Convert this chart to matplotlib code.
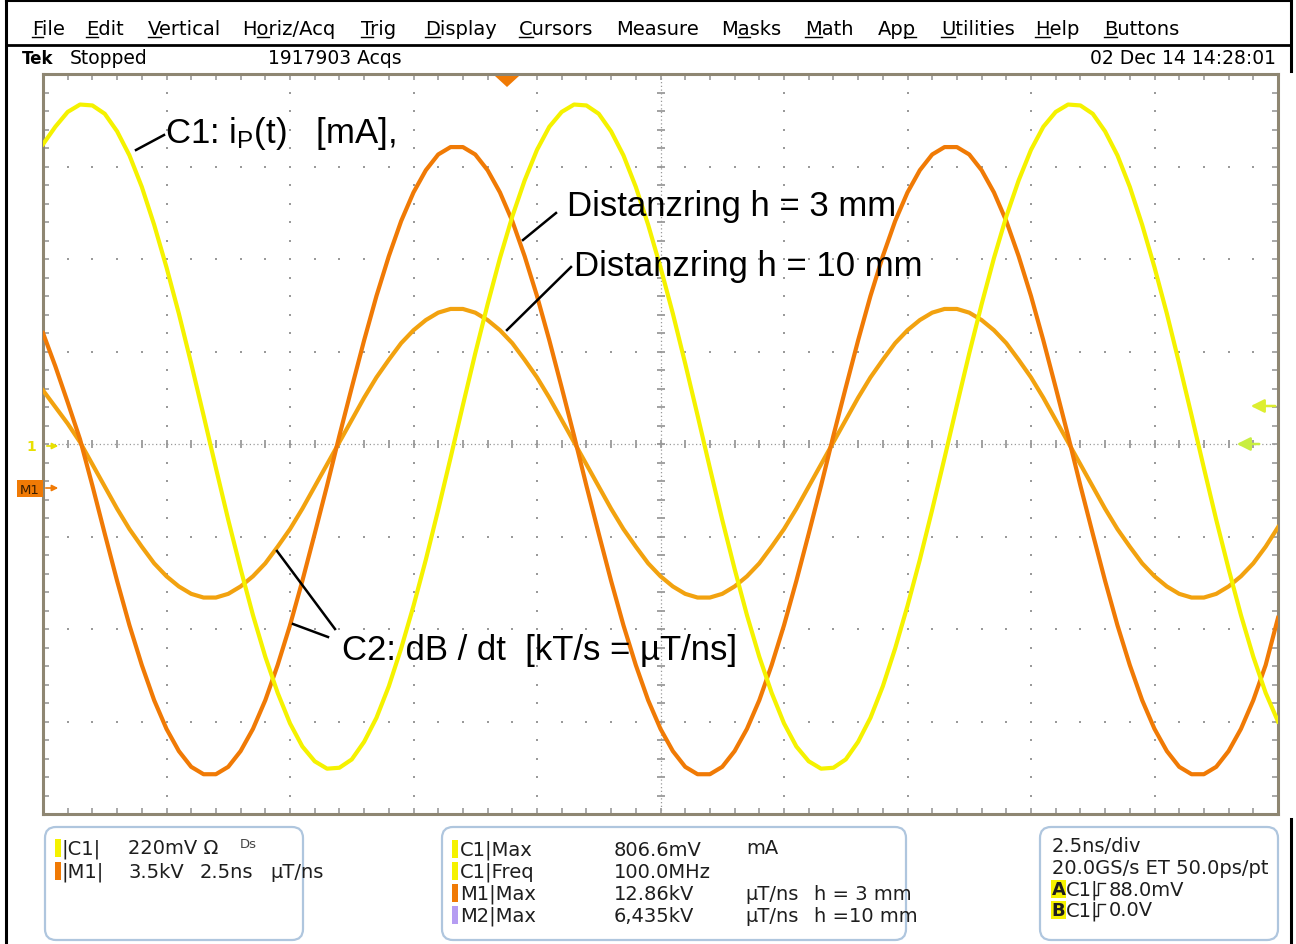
import numpy as np
import matplotlib
matplotlib.use('Agg')
import matplotlib.pyplot as plt
from matplotlib.patches import FancyBboxPatch, Rectangle, Polygon
from matplotlib.font_manager import FontProperties

plt.rcParams['font.family'] = ['DejaVu Sans']
plt.rcParams['mathtext.fontset'] = 'custom'
plt.rcParams['mathtext.rm'] = 'Liberation Sans'
plt.rcParams['mathtext.it'] = 'Liberation Sans:italic'

W, H = 1296, 945

# screen readings in divisions, one point every 0.1 div (0.25 ns at 2.5 ns/div)
t_div = np.linspace(0, 10, 101)

# C1: primary current i_P(t)
c1_div = [3.24, 3.43, 3.59, 3.67, 3.66, 3.57, 3.38, 3.12, 2.78, 2.37,
          1.91, 1.41, 0.87, 0.31, -0.26, -0.82, -1.35, -1.85, -2.30, -2.69,
          -3.02, -3.27, -3.43, -3.51, -3.50, -3.41, -3.22, -2.96, -2.62, -2.21,
          -1.75, -1.25, -0.71, -0.15, 0.42, 0.98, 1.51, 2.01, 2.46, 2.85,
          3.18, 3.43, 3.59, 3.67, 3.66, 3.57, 3.38, 3.12, 2.78, 2.37,
          1.91, 1.41, 0.87, 0.31, -0.26, -0.82, -1.35, -1.85, -2.30, -2.69,
          -3.02, -3.27, -3.43, -3.51, -3.50, -3.41, -3.22, -2.96, -2.62, -2.21,
          -1.75, -1.25, -0.71, -0.15, 0.42, 0.98, 1.51, 2.01, 2.46, 2.85,
          3.18, 3.43, 3.59, 3.67, 3.66, 3.57, 3.38, 3.12, 2.78, 2.37,
          1.91, 1.41, 0.87, 0.31, -0.26, -0.82, -1.35, -1.85, -2.30, -2.69,
          -3.00]
# M1: dB/dt with spacer ring h = 3 mm
m1_div = [1.20, 0.84, 0.45, 0.05, -0.45, -0.97, -1.48, -1.96, -2.39, -2.77,
          -3.08, -3.32, -3.49, -3.57, -3.57, -3.49, -3.32, -3.08, -2.77, -2.39,
          -1.96, -1.48, -0.97, -0.45, 0.09, 0.61, 1.12, 1.60, 2.03, 2.41,
          2.72, 2.96, 3.13, 3.21, 3.21, 3.13, 2.96, 2.72, 2.41, 2.03,
          1.60, 1.12, 0.61, 0.09, -0.45, -0.97, -1.48, -1.96, -2.39, -2.77,
          -3.08, -3.32, -3.49, -3.57, -3.57, -3.49, -3.32, -3.08, -2.77, -2.39,
          -1.96, -1.48, -0.97, -0.45, 0.09, 0.61, 1.12, 1.60, 2.03, 2.41,
          2.72, 2.96, 3.13, 3.21, 3.21, 3.13, 2.96, 2.72, 2.41, 2.03,
          1.60, 1.12, 0.61, 0.09, -0.45, -0.97, -1.48, -1.96, -2.39, -2.77,
          -3.08, -3.32, -3.49, -3.57, -3.57, -3.49, -3.32, -3.08, -2.77, -2.39,
          -1.88]
# M2: dB/dt with spacer ring h = 10 mm
m2_div = [0.58, 0.40, 0.22, 0.02, -0.22, -0.46, -0.70, -0.92, -1.11, -1.29,
          -1.43, -1.54, -1.62, -1.66, -1.66, -1.62, -1.54, -1.43, -1.29, -1.11,
          -0.92, -0.70, -0.46, -0.22, 0.02, 0.26, 0.50, 0.72, 0.91, 1.09,
          1.23, 1.34, 1.42, 1.46, 1.46, 1.42, 1.34, 1.23, 1.09, 0.91,
          0.72, 0.50, 0.26, 0.02, -0.22, -0.46, -0.70, -0.92, -1.11, -1.29,
          -1.43, -1.54, -1.62, -1.66, -1.66, -1.62, -1.54, -1.43, -1.29, -1.11,
          -0.92, -0.70, -0.46, -0.22, 0.02, 0.26, 0.50, 0.72, 0.91, 1.09,
          1.23, 1.34, 1.42, 1.46, 1.46, 1.42, 1.34, 1.23, 1.09, 0.91,
          0.72, 0.50, 0.26, 0.02, -0.22, -0.46, -0.70, -0.92, -1.11, -1.29,
          -1.43, -1.54, -1.62, -1.66, -1.66, -1.62, -1.54, -1.43, -1.29, -1.11,
          -0.90]

menu_items = ['File', 'Edit', 'Vertical', 'Horiz/Acq', 'Trig', 'Display', 'Cursors',
              'Measure', 'Masks', 'Math', 'App', 'Utilities', 'Help', 'Buttons']
menu_x = [32, 86, 148, 242, 361, 425, 519, 616, 721, 805, 878, 941, 1035, 1104]
menu_ul = [0, 0, 0, 1, 0, 0, 0, None, 1, 0, 2, 0, 0, 0]

YELLOW = '#F5F200'
ORANGE = '#F07A05'
LORANGE = '#F2A20F'
PURPLE = '#B59CF2'
GRID = '#9A9A9A'
BORDER = '#8E8672'
PANEL = '#AFC6DE'
TXT = '#1E1E1E'

fig = plt.figure(figsize=(W / 100, H / 100), dpi=100)
fig.patch.set_facecolor('white')

# ---- scope screen (10 x 8 divisions) ----
L, R, T, B = 43, 1278, 75, 815
ax = fig.add_axes([L / W, 1 - B / H, (R - L) / W, (B - T) / H])
ax.set_xlim(0, 10)
ax.set_ylim(-4, 4)
ax.set_xticks(np.arange(0, 11, 1))
ax.set_yticks(np.arange(-4, 5, 1))
ax.set_xticks(np.linspace(0, 10, 51), minor=True)
ax.set_yticks(np.linspace(-4, 4, 41), minor=True)
ax.tick_params(which='both', direction='in', top=True, right=True, bottom=True, left=True,
               labelbottom=False, labelleft=False, length=4, width=1.2, color=GRID)
for s in ax.spines.values():
    s.set_color(BORDER)
    s.set_linewidth(2.2)

xs = np.linspace(0, 10, 51)
ys = np.linspace(-4, 4, 41)
for gx in [1, 2, 3, 4, 6, 7, 8, 9]:
    ax.plot(np.full_like(ys, gx), ys, ls='none', marker='s', ms=1.5, mew=0, color=GRID, zorder=1)
for gy in [-3, -2, -1, 1, 2, 3]:
    ax.plot(xs, np.full_like(xs, gy), ls='none', marker='s', ms=1.5, mew=0, color=GRID, zorder=1)
# centre cross with fine ticks
ax.plot([0, 10], [0, 0], ls=(0, (1, 2)), lw=0.9, color=GRID, zorder=1)
ax.plot(xs, np.zeros_like(xs), ls='none', marker='|', ms=6, mew=1.3, color=GRID, zorder=1)
ax.plot([5, 5], [-4, 4], ls=(0, (1, 2)), lw=0.9, color=GRID, zorder=1)
ax.plot(np.full_like(ys, 5), ys, ls='none', marker='_', ms=6, mew=1.3, color=GRID, zorder=1)

ax.plot(t_div, m2_div, color=LORANGE, lw=3.0, zorder=3, solid_joinstyle='round')
ax.plot(t_div, m1_div, color=ORANGE, lw=3.0, zorder=4, solid_joinstyle='round')
ax.plot(t_div, c1_div, color=YELLOW, lw=3.0, zorder=5, solid_joinstyle='round')

# ---- overlay in pixel coordinates ----
ov = fig.add_axes([0, 0, 1, 1], zorder=5)
ov.set_xlim(0, W)
ov.set_ylim(H, 0)
ov.set_axis_off()
ov.patch.set_visible(False)

# window frame
ov.plot([6, 6], [2, H], color='black', lw=2.2)
ov.plot([6, 1291], [2, 2], color='black', lw=1.5)
ov.plot([6, 1291], [46, 46], color='black', lw=2.0)
ov.plot([1291, 1291], [2, 72], color='black', lw=2.2)
ov.plot([1291, 1291], [820, H], color='black', lw=2.2)

# menu bar
fig.canvas.draw()
rend = fig.canvas.get_renderer()
fp_menu = FontProperties(family='DejaVu Sans', size=14)
for name, mx, ui in zip(menu_items, menu_x, menu_ul):
    ov.text(mx, 35, name, fontproperties=fp_menu, color='black', va='baseline', ha='left')
    if ui is not None:
        w0 = rend.get_text_width_height_descent(name[:ui], fp_menu, ismath=False)[0] if ui > 0 else 0
        w1 = rend.get_text_width_height_descent(name[ui], fp_menu, ismath=False)[0]
        ov.plot([mx + w0, mx + w0 + w1], [38, 38], color='black', lw=1.0)

# status line
ov.text(22, 64, 'Tek', fontsize=12, fontweight='bold', color='black', va='baseline')
ov.text(70, 64, 'Stopped', fontsize=13.5, color='black', va='baseline')
ov.text(268, 64, '1917903 Acqs', fontsize=13.5, color='black', va='baseline')
ov.text(1276, 64, '02 Dec 14 14:28:01', fontsize=13.5, color='black', va='baseline', ha='right')

# trigger position marker and channel markers
ov.add_patch(Polygon([(495, 77), (519, 77), (507, 88)], closed=True, fc=ORANGE, ec='none'))
ov.text(31, 447, '1', fontsize=10, color='#E8E000', ha='center', va='center', fontweight='bold')
ov.annotate('', xy=(61, 447), xytext=(44, 447),
            arrowprops=dict(arrowstyle='-|>', color='#E8E000', lw=1.2, mutation_scale=9))
ov.add_patch(Rectangle((17, 481), 26, 17, fc=ORANGE, ec='none'))
ov.text(30, 490, 'M1', fontsize=9.5, color='#3A1E00', ha='center', va='center')
ov.annotate('', xy=(61, 489), xytext=(43, 489),
            arrowprops=dict(arrowstyle='-|>', color=ORANGE, lw=1.2, mutation_scale=9))
ov.annotate('', xy=(1248, 407), xytext=(1278, 407),
            arrowprops=dict(arrowstyle='-|>', color='#DDEE30', lw=1.8, mutation_scale=20))
ov.annotate('', xy=(1234, 445), xytext=(1262, 445),
            arrowprops=dict(arrowstyle='-|>', color='#C8EE40', lw=1.8, mutation_scale=20))

# annotations
ann = dict(family='Liberation Sans', fontsize=25, color='black', va='baseline', ha='left')
ov.text(165, 143, r'C1: i$_{\mathrm{P}}$(t)   [mA],', **ann)
ov.text(567, 216, 'Distanzring h = 3 mm', **ann)
ov.text(574, 276, 'Distanzring h = 10 mm', **ann)
ov.text(342, 660, 'C2: dB / dt  [kT/s = µT/ns]', **ann)
leaders = [((136, 151), (164, 136)), ((523, 241), (556, 214)), ((507, 331), (571, 268)),
           ((277, 552), (335, 630)), ((293, 625), (328, 638))]
for (x0, y0), (x1, y1) in leaders:
    ov.plot([x0, x1], [y0, y1], color='black', lw=1.8)

# ---- bottom readout panels ----
for px, pw in [(45, 258), (442, 464), (1040, 238)]:
    ov.add_patch(FancyBboxPatch((px, 828), pw, 113, boxstyle='round,pad=0,rounding_size=11',
                                fc='white', ec=PANEL, lw=1.6))

pt = dict(fontsize=14, color=TXT, va='center', ha='left')
# panel 1
ov.add_patch(Rectangle((55, 840), 6, 18, fc=YELLOW, ec='none'))
ov.add_patch(Rectangle((55, 863), 6, 18, fc=ORANGE, ec='none'))
ov.text(62, 849, '|C1|', **pt)
ov.text(128, 849, '220mV Ω', **pt)
ov.text(240, 845, 'Ds', fontsize=9.5, color='#444444', va='center')
ov.text(62, 872, '|M1|', **pt)
ov.text(128, 872, '3.5kV', **pt)
ov.text(200, 872, '2.5ns', **pt)
ov.text(270, 872, 'µT/ns', **pt)

# panel 2
rows2 = [850, 872, 894, 916]
for yy, col in zip(rows2, [YELLOW, YELLOW, ORANGE, PURPLE]):
    ov.add_patch(Rectangle((452, yy - 9), 6, 18, fc=col, ec='none'))
ov.text(460, rows2[0], 'C1|Max', **pt)
ov.text(460, rows2[1], 'C1|Freq', **pt)
ov.text(460, rows2[2], 'M1|Max', **pt)
ov.text(460, rows2[3], 'M2|Max', **pt)
ov.text(614, rows2[0], '806.6mV', **pt)
ov.text(614, rows2[1], '100.0MHz', **pt)
ov.text(614, rows2[2], '12.86kV', **pt)
ov.text(614, rows2[3], '6,435kV', **pt)
ov.text(746, rows2[0] - 2, 'mA', **pt)
ov.text(745, rows2[2], 'µT/ns', **pt)
ov.text(745, rows2[3], 'µT/ns', **pt)
ov.text(814, rows2[2], 'h = 3 mm', **pt)
ov.text(814, rows2[3], 'h =10 mm', **pt)

# panel 3
ov.text(1052, 847, '2.5ns/div', **pt)
ov.text(1052, 869, '20.0GS/s ET 50.0ps/pt', **pt)
for yy, lab, val in [(890, 'A', '88.0mV'), (911, 'B', '0.0V')]:
    ov.add_patch(Rectangle((1051, yy - 9), 15, 18, fc=YELLOW, ec='none'))
    ov.text(1058.5, yy, lab, fontsize=13, fontweight='bold', color=TXT, ha='center', va='center')
    ov.text(1066, yy, 'C1|', **pt)
    ov.plot([1094, 1098, 1098, 1105], [yy + 6, yy + 6, yy - 6, yy - 6], color=TXT, lw=1.0)
    ov.text(1109, yy, val, **pt)

fig.savefig('out.png', dpi=100, facecolor='white')
